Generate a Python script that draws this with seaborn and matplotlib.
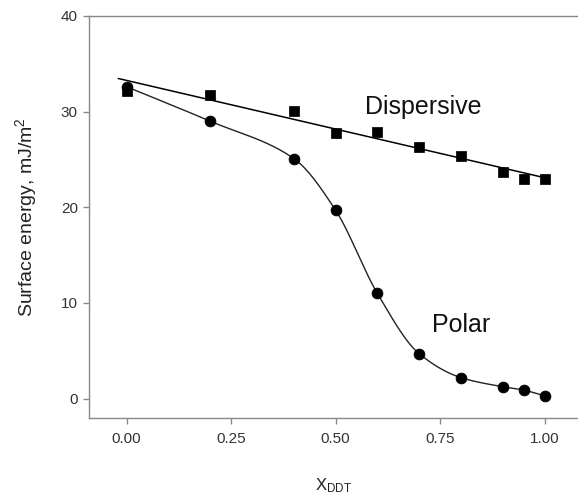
import numpy as np
import pandas as pd
import matplotlib
matplotlib.use('Agg')
import matplotlib.pyplot as plt
import seaborn as sns

# данные
x_ddt = [0.0, 0.2, 0.4, 0.5, 0.6, 0.7, 0.8, 0.9, 0.95, 1.0]
dispersive = [32.2, 31.7, 30.1, 27.8, 27.9, 26.3, 25.4, 23.7, 23.0, 23.0]
polar = [32.6, 29.0, 25.1, 19.7, 11.0, 4.7, 2.2, 1.25, 0.9, 0.3]


def pchip(x, y, xs):
    # монотонная кубическая интерполяция (Fritsch-Carlson) для гладкой кривой
    x = np.asarray(x, float)
    y = np.asarray(y, float)
    h = np.diff(x)
    d = np.diff(y) / h
    m = np.zeros_like(y)
    for k in range(1, len(x) - 1):
        if d[k - 1] * d[k] > 0:
            w1 = 2 * h[k] + h[k - 1]
            w2 = h[k] + 2 * h[k - 1]
            m[k] = (w1 + w2) / (w1 / d[k - 1] + w2 / d[k])
    m[0] = d[0]
    m[-1] = d[-1]
    idx = np.clip(np.searchsorted(x, xs) - 1, 0, len(x) - 2)
    t = (xs - x[idx]) / h[idx]
    h00 = 2 * t**3 - 3 * t**2 + 1
    h10 = t**3 - 2 * t**2 + t
    h01 = -2 * t**3 + 3 * t**2
    h11 = t**3 - t**2
    return h00 * y[idx] + h10 * h[idx] * m[idx] + h01 * y[idx + 1] + h11 * h[idx] * m[idx + 1]


sns.set_style('ticks')
plt.rcParams['font.family'] = ['Liberation Sans', 'DejaVu Sans']

fig = plt.figure(figsize=(5.78, 4.98), dpi=100)
ax = fig.add_axes([0.154, 0.161, 0.846, 0.807])

# линейная аппроксимация дисперсионной составляющей
k, b = np.polyfit(x_ddt, dispersive, 1)
x_fit = np.linspace(-0.02, 1.0, 50)
sns.lineplot(x=x_fit, y=k * x_fit + b, color='black', lw=1.1, ax=ax)

# гладкая кривая для полярной составляющей
x_s = np.linspace(0.0, 1.0, 300)
sns.lineplot(x=x_s, y=pchip(x_ddt, polar, x_s), color='#222222', lw=1.0, ax=ax)

sns.scatterplot(x=x_ddt, y=dispersive, marker='s', s=42, color='black',
                edgecolor='black', ax=ax, zorder=3)
sns.scatterplot(x=x_ddt, y=polar, marker='o', s=60, color='black',
                edgecolor='black', ax=ax, zorder=3)

ax.text(0.71, 30.5, 'Dispersive', fontsize=18, ha='center', va='center', color='#111111')
ax.text(0.80, 7.7, 'Polar', fontsize=18, ha='center', va='center', color='#111111')

ax.set_xlim(-0.09, 1.08)
ax.set_ylim(-2, 40)
ax.set_xticks([0.0, 0.25, 0.5, 0.75, 1.0])
ax.set_xticklabels(['0.00', '0.25', '0.50', '0.75', '1.00'])
ax.set_yticks([0, 10, 20, 30, 40])

for s in ['left', 'bottom', 'top']:
    ax.spines[s].set_color('#888888')
    ax.spines[s].set_linewidth(1.0)
ax.spines['right'].set_visible(False)
ax.tick_params(colors='#888888', labelcolor='#333333', labelsize=11, length=4, width=1)
ax.tick_params(axis='x', pad=6)
ax.tick_params(axis='y', pad=4)

ax.set_ylabel('Surface energy, mJ/m$\\mathregular{^2}$', fontsize=14, color='#222222', labelpad=16)
ax.set_xlabel('$\\mathregular{X_{DDT}}$', fontsize=12, color='#222222', labelpad=22)

fig.savefig('out.png', dpi=100)
